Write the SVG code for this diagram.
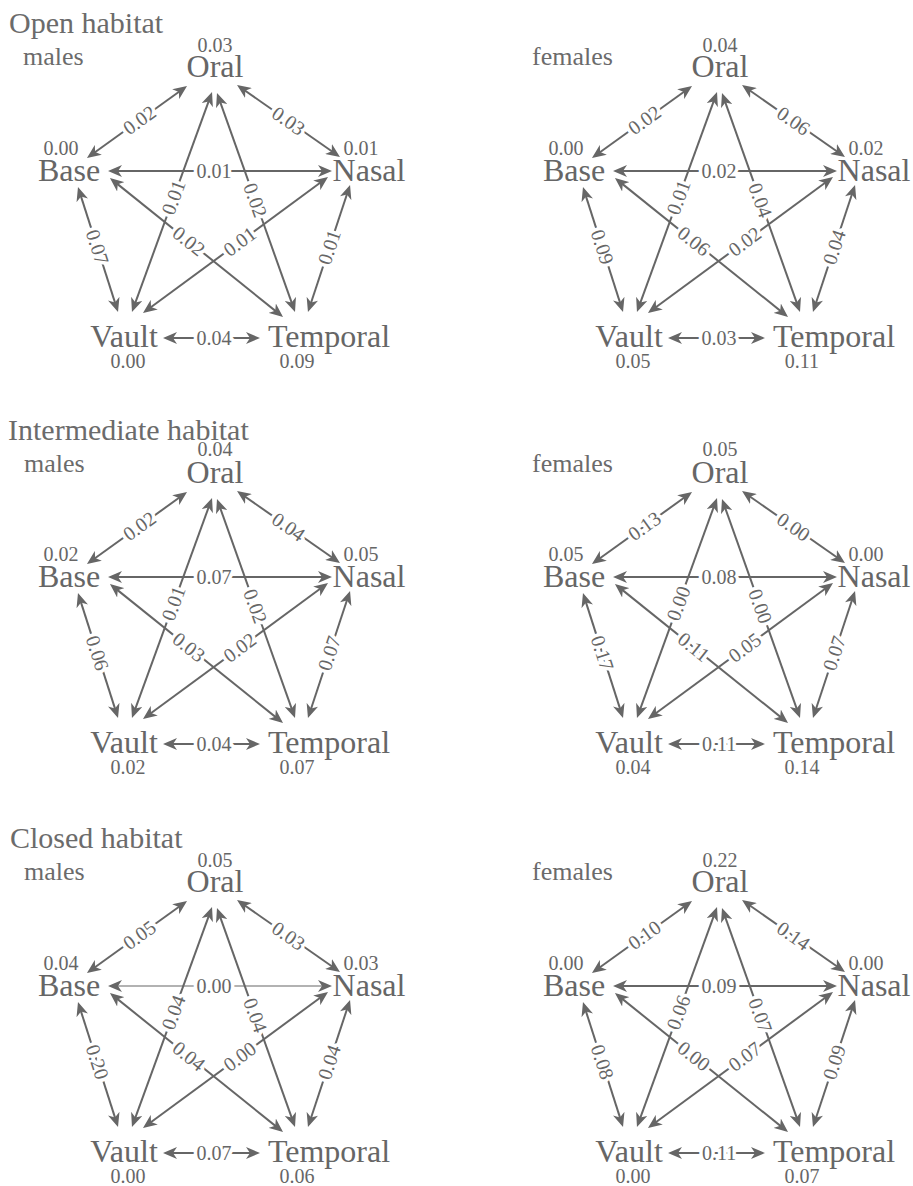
<svg xmlns="http://www.w3.org/2000/svg" width="913" height="1186" viewBox="0 0 913 1186">
  <defs>
    <marker id="ah" viewBox="0 0 14 12" refX="11" refY="6" markerWidth="14" markerHeight="12" markerUnits="userSpaceOnUse" orient="auto-start-reverse">
      <path d="M0,0 L14,6 L0,12 L4,6 Z" fill="#666"/>
    </marker>
  </defs>
  <style>
    text { font-family: "Liberation Serif", "Times New Roman", serif; fill: #666; }
    .title { font-size: 30px; fill: #6b6b6b; }
    .sex { font-size: 26px; fill: #6b6b6b; }
    .node { font-size: 32px; text-anchor: middle; }
    .val { font-size: 20px; text-anchor: middle; }
    .edge { stroke: #666; stroke-width: 2; fill: none; marker-start: url(#ah); marker-end: url(#ah); }
    .thin { stroke-width: 1.2; }
    .el { font-size: 20px; text-anchor: middle; stroke: #fff; stroke-width: 7; stroke-linejoin: round; paint-order: stroke; }
  </style>
  <rect width="913" height="1186" fill="#fff"/>

  <!-- row titles -->
  <g id="titles">
    <text class="title" x="9" y="33">Open habitat</text>
    <text class="title" x="8" y="440">Intermediate habitat</text>
    <text class="title" x="10" y="848">Closed habitat</text>
  </g>

  <!-- ===== Open habitat, males ===== -->
  <g id="open-males">
    <text class="sex" x="23" y="65">males</text>
    <g id="open-males-connectors">
      <line class="edge" x1="89.4" y1="156.2" x2="184.6" y2="87.8"/>
      <line class="edge" x1="239.5" y1="86.7" x2="337.5" y2="155.3"/>
      <line class="edge" x1="111" y1="171" x2="329" y2="171"/>
      <line class="edge" x1="166" y1="338" x2="257" y2="338"/>
      <line class="edge" x1="78.9" y1="189.9" x2="117.1" y2="309.1"/>
      <line class="edge" x1="349.1" y1="187.8" x2="308.9" y2="309.2"/>
      <line class="edge" x1="211" y1="94.8" x2="133" y2="309.2"/>
      <line class="edge" x1="218" y1="95.8" x2="294" y2="309.2"/>
      <line class="edge" x1="112.3" y1="179.9" x2="280.7" y2="315.1"/>
      <line class="edge" x1="325.6" y1="178.8" x2="145.4" y2="311.2"/>
      <text class="el" dy="6.6" transform="translate(139.5,120.2) rotate(-35.8)">0.02</text>
      <text class="el" dy="6.6" transform="translate(288.5,121) rotate(35)">0.03</text>
      <text class="el" dy="6.6" transform="translate(214,171)">0.01</text>
      <text class="el" dy="6.6" transform="translate(214,338)">0.04</text>
      <text class="el" dy="6.6" transform="translate(97.2,247) rotate(72.3)">0.07</text>
      <text class="el" dy="6.6" transform="translate(329.4,247.2) rotate(-71.7)">0.01</text>
      <text class="el" dy="6.6" transform="translate(173.6,197.6) rotate(-70)">0.01</text>
      <text class="el" dy="6.6" transform="translate(255.2,200.3) rotate(70.4)">0.02</text>
      <text class="el" dy="6.6" transform="translate(188.7,241.2) rotate(38.8)">0.02</text>
      <text class="el" dy="6.6" transform="translate(239.9,241.7) rotate(-36.3)">0.01</text>
    </g>
    <g id="open-males-oral"><text class="val" x="215" y="52">0.03</text><text class="node" x="215" y="77">Oral</text></g>
    <g id="open-males-base"><text class="val" x="61" y="155">0.00</text><text class="node" x="69" y="181">Base</text></g>
    <g id="open-males-nasal"><text class="val" x="361" y="155">0.01</text><text class="node" x="369" y="181">Nasal</text></g>
    <g id="open-males-vault"><text class="node" x="124" y="347">Vault</text><text class="val" x="128" y="368">0.00</text></g>
    <g id="open-males-temporal"><text class="node" x="329" y="347">Temporal</text><text class="val" x="297" y="368">0.09</text></g>
  </g>

  <!-- ===== Open habitat, females ===== -->
  <g id="open-females" transform="translate(505,0)">
    <text class="sex" x="27" y="65">females</text>
    <g id="open-females-connectors">
      <line class="edge" x1="89.4" y1="156.2" x2="184.6" y2="87.8"/>
      <line class="edge" x1="239.5" y1="86.7" x2="337.5" y2="155.3"/>
      <line class="edge" x1="111" y1="171" x2="329" y2="171"/>
      <line class="edge" x1="166" y1="338" x2="257" y2="338"/>
      <line class="edge" x1="78.9" y1="189.9" x2="117.1" y2="309.1"/>
      <line class="edge" x1="349.1" y1="187.8" x2="308.9" y2="309.2"/>
      <line class="edge" x1="211" y1="94.8" x2="133" y2="309.2"/>
      <line class="edge" x1="218" y1="95.8" x2="294" y2="309.2"/>
      <line class="edge" x1="112.3" y1="179.9" x2="280.7" y2="315.1"/>
      <line class="edge" x1="325.6" y1="178.8" x2="145.4" y2="311.2"/>
      <text class="el" dy="6.6" transform="translate(139.5,120.2) rotate(-35.8)">0.02</text>
      <text class="el" dy="6.6" transform="translate(288.5,121) rotate(35)">0.06</text>
      <text class="el" dy="6.6" transform="translate(214,171)">0.02</text>
      <text class="el" dy="6.6" transform="translate(214,338)">0.03</text>
      <text class="el" dy="6.6" transform="translate(97.2,247) rotate(72.3)">0.09</text>
      <text class="el" dy="6.6" transform="translate(329.4,247.2) rotate(-71.7)">0.04</text>
      <text class="el" dy="6.6" transform="translate(173.6,197.6) rotate(-70)">0.01</text>
      <text class="el" dy="6.6" transform="translate(255.2,200.3) rotate(70.4)">0.04</text>
      <text class="el" dy="6.6" transform="translate(188.7,241.2) rotate(38.8)">0.06</text>
      <text class="el" dy="6.6" transform="translate(239.9,241.7) rotate(-36.3)">0.02</text>
    </g>
    <g id="open-females-oral"><text class="val" x="215" y="52">0.04</text><text class="node" x="215" y="77">Oral</text></g>
    <g id="open-females-base"><text class="val" x="61" y="155">0.00</text><text class="node" x="69" y="181">Base</text></g>
    <g id="open-females-nasal"><text class="val" x="361" y="155">0.02</text><text class="node" x="369" y="181">Nasal</text></g>
    <g id="open-females-vault"><text class="node" x="124" y="347">Vault</text><text class="val" x="128" y="368">0.05</text></g>
    <g id="open-females-temporal"><text class="node" x="329" y="347">Temporal</text><text class="val" x="297" y="368">0.11</text></g>
  </g>

  <!-- ===== Intermediate habitat, males ===== -->
  <g id="intermediate-males" transform="translate(0,406)">
    <text class="sex" x="24" y="66">males</text>
    <g id="intermediate-males-connectors">
      <line class="edge" x1="89.4" y1="156.2" x2="184.6" y2="87.8"/>
      <line class="edge" x1="239.5" y1="86.7" x2="337.5" y2="155.3"/>
      <line class="edge" x1="111" y1="171" x2="329" y2="171"/>
      <line class="edge" x1="166" y1="338" x2="257" y2="338"/>
      <line class="edge" x1="78.9" y1="189.9" x2="117.1" y2="309.1"/>
      <line class="edge" x1="349.1" y1="187.8" x2="308.9" y2="309.2"/>
      <line class="edge" x1="211" y1="94.8" x2="133" y2="309.2"/>
      <line class="edge" x1="218" y1="95.8" x2="294" y2="309.2"/>
      <line class="edge" x1="112.3" y1="179.9" x2="280.7" y2="315.1"/>
      <line class="edge" x1="325.6" y1="178.8" x2="145.4" y2="311.2"/>
      <text class="el" dy="6.6" transform="translate(139.5,120.2) rotate(-35.8)">0.02</text>
      <text class="el" dy="6.6" transform="translate(288.5,121) rotate(35)">0.04</text>
      <text class="el" dy="6.6" transform="translate(214,171)">0.07</text>
      <text class="el" dy="6.6" transform="translate(214,338)">0.04</text>
      <text class="el" dy="6.6" transform="translate(97.2,247) rotate(72.3)">0.06</text>
      <text class="el" dy="6.6" transform="translate(329.4,247.2) rotate(-71.7)">0.07</text>
      <text class="el" dy="6.6" transform="translate(173.6,197.6) rotate(-70)">0.01</text>
      <text class="el" dy="6.6" transform="translate(255.2,200.3) rotate(70.4)">0.02</text>
      <text class="el" dy="6.6" transform="translate(188.7,241.2) rotate(38.8)">0.03</text>
      <text class="el" dy="6.6" transform="translate(239.9,241.7) rotate(-36.3)">0.02</text>
    </g>
    <g id="intermediate-males-oral"><text class="val" x="215" y="50">0.04</text><text class="node" x="215" y="77">Oral</text></g>
    <g id="intermediate-males-base"><text class="val" x="61" y="155">0.02</text><text class="node" x="69" y="181">Base</text></g>
    <g id="intermediate-males-nasal"><text class="val" x="361" y="155">0.05</text><text class="node" x="369" y="181">Nasal</text></g>
    <g id="intermediate-males-vault"><text class="node" x="124" y="347">Vault</text><text class="val" x="128" y="368">0.02</text></g>
    <g id="intermediate-males-temporal"><text class="node" x="329" y="347">Temporal</text><text class="val" x="297" y="368">0.07</text></g>
  </g>

  <!-- ===== Intermediate habitat, females ===== -->
  <g id="intermediate-females" transform="translate(505,406)">
    <text class="sex" x="27" y="66">females</text>
    <g id="intermediate-females-connectors">
      <line class="edge" x1="89.4" y1="156.2" x2="184.6" y2="87.8"/>
      <line class="edge" x1="239.5" y1="86.7" x2="337.5" y2="155.3"/>
      <line class="edge" x1="111" y1="171" x2="329" y2="171"/>
      <line class="edge" x1="166" y1="338" x2="257" y2="338"/>
      <line class="edge" x1="78.9" y1="189.9" x2="117.1" y2="309.1"/>
      <line class="edge" x1="349.1" y1="187.8" x2="308.9" y2="309.2"/>
      <line class="edge" x1="211" y1="94.8" x2="133" y2="309.2"/>
      <line class="edge" x1="218" y1="95.8" x2="294" y2="309.2"/>
      <line class="edge" x1="112.3" y1="179.9" x2="280.7" y2="315.1"/>
      <line class="edge" x1="325.6" y1="178.8" x2="145.4" y2="311.2"/>
      <text class="el" dy="6.6" transform="translate(139.5,120.2) rotate(-35.8)">0.13</text>
      <text class="el" dy="6.6" transform="translate(288.5,121) rotate(35)">0.00</text>
      <text class="el" dy="6.6" transform="translate(214,171)">0.08</text>
      <text class="el" dy="6.6" transform="translate(214,338)">0.11</text>
      <text class="el" dy="6.6" transform="translate(97.2,247) rotate(72.3)">0.17</text>
      <text class="el" dy="6.6" transform="translate(329.4,247.2) rotate(-71.7)">0.07</text>
      <text class="el" dy="6.6" transform="translate(173.6,197.6) rotate(-70)">0.00</text>
      <text class="el" dy="6.6" transform="translate(255.2,200.3) rotate(70.4)">0.00</text>
      <text class="el" dy="6.6" transform="translate(188.7,241.2) rotate(38.8)">0.11</text>
      <text class="el" dy="6.6" transform="translate(239.9,241.7) rotate(-36.3)">0.05</text>
    </g>
    <g id="intermediate-females-oral"><text class="val" x="215" y="50">0.05</text><text class="node" x="215" y="77">Oral</text></g>
    <g id="intermediate-females-base"><text class="val" x="61" y="155">0.05</text><text class="node" x="69" y="181">Base</text></g>
    <g id="intermediate-females-nasal"><text class="val" x="361" y="155">0.00</text><text class="node" x="369" y="181">Nasal</text></g>
    <g id="intermediate-females-vault"><text class="node" x="124" y="347">Vault</text><text class="val" x="128" y="368">0.04</text></g>
    <g id="intermediate-females-temporal"><text class="node" x="329" y="347">Temporal</text><text class="val" x="297" y="368">0.14</text></g>
  </g>

  <!-- ===== Closed habitat, males ===== -->
  <g id="closed-males" transform="translate(0,815)">
    <text class="sex" x="24" y="65">males</text>
    <g id="closed-males-connectors">
      <line class="edge" x1="89.4" y1="156.2" x2="184.6" y2="87.8"/>
      <line class="edge" x1="239.5" y1="86.7" x2="337.5" y2="155.3"/>
      <line class="edge thin" x1="111" y1="171" x2="329" y2="171"/>
      <line class="edge" x1="166" y1="338" x2="257" y2="338"/>
      <line class="edge" x1="78.9" y1="189.9" x2="117.1" y2="309.1"/>
      <line class="edge" x1="349.1" y1="187.8" x2="308.9" y2="309.2"/>
      <line class="edge" x1="211" y1="94.8" x2="133" y2="309.2"/>
      <line class="edge" x1="218" y1="95.8" x2="294" y2="309.2"/>
      <line class="edge" x1="112.3" y1="179.9" x2="280.7" y2="315.1"/>
      <line class="edge" x1="325.6" y1="178.8" x2="145.4" y2="311.2"/>
      <text class="el" dy="6.6" transform="translate(139.5,120.2) rotate(-35.8)">0.05</text>
      <text class="el" dy="6.6" transform="translate(288.5,121) rotate(35)">0.03</text>
      <text class="el" dy="6.6" transform="translate(214,171)">0.00</text>
      <text class="el" dy="6.6" transform="translate(214,338)">0.07</text>
      <text class="el" dy="6.6" transform="translate(97.2,247) rotate(72.3)">0.20</text>
      <text class="el" dy="6.6" transform="translate(329.4,247.2) rotate(-71.7)">0.04</text>
      <text class="el" dy="6.6" transform="translate(173.6,197.6) rotate(-70)">0.04</text>
      <text class="el" dy="6.6" transform="translate(255.2,200.3) rotate(70.4)">0.04</text>
      <text class="el" dy="6.6" transform="translate(188.7,241.2) rotate(38.8)">0.04</text>
      <text class="el" dy="6.6" transform="translate(239.9,241.7) rotate(-36.3)">0.00</text>
    </g>
    <g id="closed-males-oral"><text class="val" x="215" y="52">0.05</text><text class="node" x="215" y="77">Oral</text></g>
    <g id="closed-males-base"><text class="val" x="61" y="155">0.04</text><text class="node" x="69" y="181">Base</text></g>
    <g id="closed-males-nasal"><text class="val" x="361" y="155">0.03</text><text class="node" x="369" y="181">Nasal</text></g>
    <g id="closed-males-vault"><text class="node" x="124" y="347">Vault</text><text class="val" x="128" y="368">0.00</text></g>
    <g id="closed-males-temporal"><text class="node" x="329" y="347">Temporal</text><text class="val" x="297" y="368">0.06</text></g>
  </g>

  <!-- ===== Closed habitat, females ===== -->
  <g id="closed-females" transform="translate(505,815)">
    <text class="sex" x="27" y="65">females</text>
    <g id="closed-females-connectors">
      <line class="edge" x1="89.4" y1="156.2" x2="184.6" y2="87.8"/>
      <line class="edge" x1="239.5" y1="86.7" x2="337.5" y2="155.3"/>
      <line class="edge" x1="111" y1="171" x2="329" y2="171"/>
      <line class="edge" x1="166" y1="338" x2="257" y2="338"/>
      <line class="edge" x1="78.9" y1="189.9" x2="117.1" y2="309.1"/>
      <line class="edge" x1="349.1" y1="187.8" x2="308.9" y2="309.2"/>
      <line class="edge" x1="211" y1="94.8" x2="133" y2="309.2"/>
      <line class="edge" x1="218" y1="95.8" x2="294" y2="309.2"/>
      <line class="edge" x1="112.3" y1="179.9" x2="280.7" y2="315.1"/>
      <line class="edge" x1="325.6" y1="178.8" x2="145.4" y2="311.2"/>
      <text class="el" dy="6.6" transform="translate(139.5,120.2) rotate(-35.8)">0.10</text>
      <text class="el" dy="6.6" transform="translate(288.5,121) rotate(35)">0.14</text>
      <text class="el" dy="6.6" transform="translate(214,171)">0.09</text>
      <text class="el" dy="6.6" transform="translate(214,338)">0.11</text>
      <text class="el" dy="6.6" transform="translate(97.2,247) rotate(72.3)">0.08</text>
      <text class="el" dy="6.6" transform="translate(329.4,247.2) rotate(-71.7)">0.09</text>
      <text class="el" dy="6.6" transform="translate(173.6,197.6) rotate(-70)">0.06</text>
      <text class="el" dy="6.6" transform="translate(255.2,200.3) rotate(70.4)">0.07</text>
      <text class="el" dy="6.6" transform="translate(188.7,241.2) rotate(38.8)">0.00</text>
      <text class="el" dy="6.6" transform="translate(239.9,241.7) rotate(-36.3)">0.07</text>
    </g>
    <g id="closed-females-oral"><text class="val" x="215" y="52">0.22</text><text class="node" x="215" y="77">Oral</text></g>
    <g id="closed-females-base"><text class="val" x="61" y="155">0.00</text><text class="node" x="69" y="181">Base</text></g>
    <g id="closed-females-nasal"><text class="val" x="361" y="155">0.00</text><text class="node" x="369" y="181">Nasal</text></g>
    <g id="closed-females-vault"><text class="node" x="124" y="347">Vault</text><text class="val" x="128" y="368">0.00</text></g>
    <g id="closed-females-temporal"><text class="node" x="329" y="347">Temporal</text><text class="val" x="297" y="368">0.07</text></g>
  </g>
</svg>
